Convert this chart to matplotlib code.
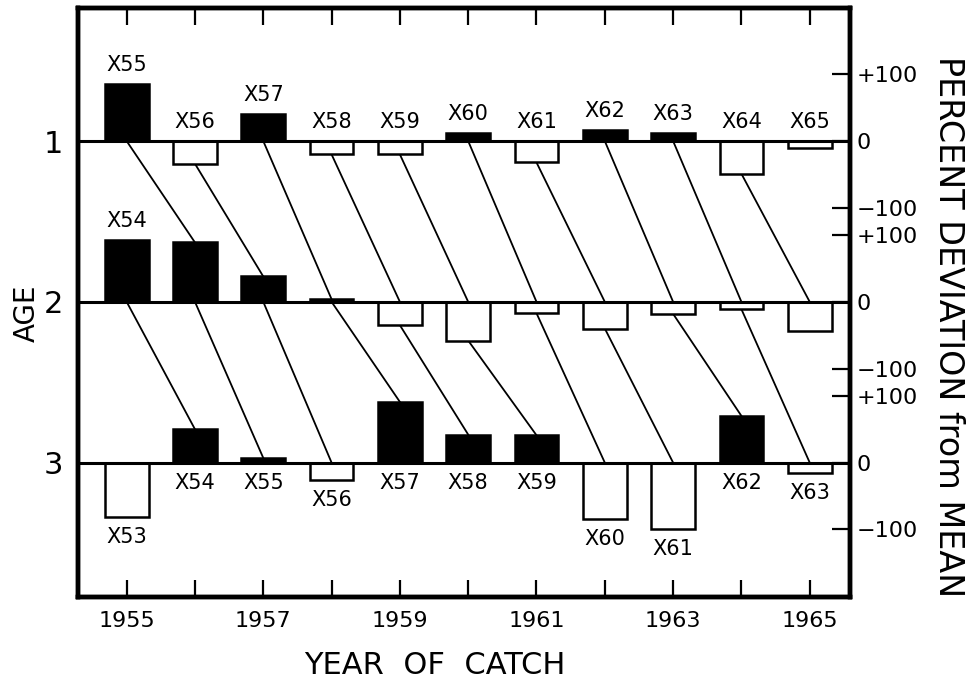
import numpy as np
import matplotlib.pyplot as plt

# percent deviation from mean catch, by age, for each year of catch
years = np.arange(1955, 1966)
age1_dev = [85, -34, 41, -20, -20, 12, -32, 17, 12, -49, -11]
age2_dev = [92, 89, 38, 4, -35, -58, -17, -40, -18, -11, -44]
age3_dev = [-82, 50, 7, -26, 91, 42, 41, -84, -100, 70, -15]

# year-class labels written next to the bars
age1_class = ['X55', 'X56', 'X57', 'X58', 'X59', 'X60', 'X61', 'X62', 'X63', 'X64', 'X65']
age2_class = ['X54', None, None, None, None, None, None, None, None, None, None]
age3_class = ['X53', 'X54', 'X55', 'X56', 'X57', 'X58', 'X59', 'X60', 'X61', 'X62', 'X63']

age_names = ['1', '2', '3']

ROW_GAP = 241   # distance between age baselines, in percent units
BAR_W = 0.64

rows = [age1_dev, age2_dev, age3_dev]
bases = [-i * ROW_GAP for i in range(len(rows))]

fig = plt.figure(figsize=(9.72, 6.8), dpi=100)
ax = fig.add_axes([0.0802, 0.1225, 0.7943, 0.8653])

for dev, base in zip(rows, bases):
    for x, v in zip(years, dev):
        ax.bar(x, v, width=BAR_W, bottom=base,
               color='black' if v > 0 else 'white',
               edgecolor='black', linewidth=1.8, zorder=3)
    ax.axhline(base, color='black', lw=2.2, zorder=4)

# follow each year class from one age to the next
for r in range(len(rows) - 1):
    top, nxt = rows[r], rows[r + 1]
    for i in range(len(years) - 1):
        y0 = bases[r] + min(0, top[i])
        y1 = bases[r + 1] + max(0, nxt[i + 1])
        ax.plot([years[i], years[i + 1]], [y0, y1], color='black', lw=1.3, zorder=2)

# labels above the bars for ages 1 and 2, below for age 3
for labels, dev, base in [(age1_class, age1_dev, bases[0]), (age2_class, age2_dev, bases[1])]:
    for x, v, lab in zip(years, dev, labels):
        if lab is None:
            continue
        ax.annotate(lab, (x, base + max(0, v)), xytext=(0, 9), textcoords='offset pixels',
                    ha='center', va='bottom', fontsize=15)
for x, v, lab in zip(years, age3_dev, age3_class):
    ax.annotate(lab, (x, bases[2] + min(0, v)), xytext=(0, -10), textcoords='offset pixels',
                ha='center', va='top', fontsize=15)

ax.set_xlim(1954.287, 1965.59)
ax.set_ylim(-683, 199)

ax.set_xticks(years)
ax.set_xticklabels([str(y) if y % 2 else '' for y in years])
ax.tick_params(axis='x', direction='in', length=12, width=1.6, top=True,
               labelsize=16, pad=10.5)

ax.set_yticks(bases)
ax.set_yticklabels(age_names)
ax.tick_params(axis='y', left=False, length=0, labelsize=22, pad=11)

# percent scale on the right, one set per age
axr = ax.twinx()
axr.set_ylim(ax.get_ylim())
rticks, rlabels = [], []
for base in bases:
    rticks += [base + 100, base, base - 100]
    rlabels += ['+100', '0', '\u2212100']
axr.set_yticks(rticks)
axr.set_yticklabels(rlabels)
axr.tick_params(axis='y', direction='in', length=13, width=1.6, labelsize=16, pad=5)

for a in (ax, axr):
    for s in a.spines.values():
        s.set_linewidth(3.2)

fig.text(27 / 972, 1 - 313 / 680, 'AGE', rotation=90, ha='center', va='center', fontsize=20)
fig.text(435 / 972, 1 - 666 / 680, 'YEAR  OF  CATCH', ha='center', va='center', fontsize=22)
fig.text(948 / 972, 1 - 327 / 680, 'PERCENT DEVIATION from MEAN', rotation=-90,
         ha='center', va='center', fontsize=24)

fig.savefig('out.png', dpi=100)
